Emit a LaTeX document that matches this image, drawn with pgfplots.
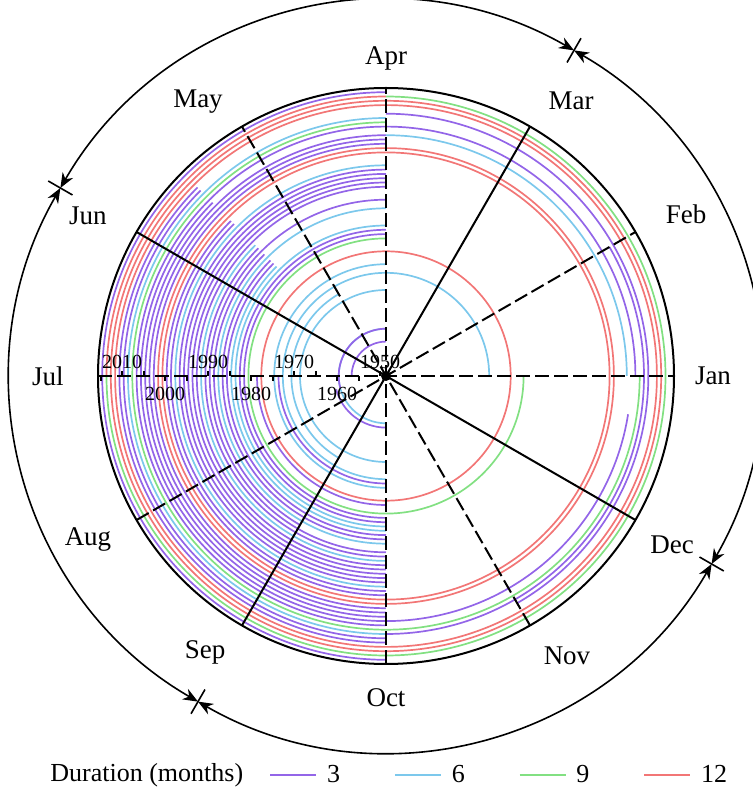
\documentclass[border=0pt]{standalone}
\usepackage{fontspec}
\setmainfont{Liberation Serif}
\usepackage{pgfplots}
\usepackage{pgfplotstable}
\pgfplotsset{compat=1.18}
\usetikzlibrary{arrows.meta}

\definecolor{c3}{RGB}{147,101,232}
\definecolor{c6}{RGB}{124,200,236}
\definecolor{c9}{RGB}{130,224,130}
\definecolor{c12}{RGB}{242,118,118}

% one ring per year: radius grows \rate units per year
\def\rate{4.3}
\def\rbase{1949.0}

\tikzset{
  yearlab/.style={font=\fontsize{10}{12}\selectfont, inner sep=0pt},
  monlab/.style={font=\fontsize{13.5}{16}\selectfont, inner sep=0pt},
  spoke/.style={black, line width=1pt},
  dashedspoke/.style={black, line width=1pt, dash pattern=on 7pt off 2.5pt},
}

% drought spells: ring year, from / to (month position, 0 = Jan, 3 = Apr, counterclockwise), scale (months)
\pgfplotstableread{
ring from to scale
1957 3 6 3
1960 3 9 6
1960 3 6.5 3
1961 6.5 9 3
1969 3 9 6
1971 4 8 6
1973 0 9 6
1974 6 9 3
1975 3 9 6
1978 3 15 12
1979 6 9 3
1981 3 12 9
1982 3 9 3
1983 3 9 3
1984 3 9 6
1985 4.5 9 6
1986 4.5 9 3
1987 4.5 9 3
1988 3 9 6
1989 4.5 8 3
1990 3 9 3
1991 4.5 9 3
1992 4.5 9 6
1993 3 9 3
1994 3 9 3
1995 3 9 3
1996 3 9 3
1997 3 9 3
1998 3 9 6
1999 4.5 9 3
2000 4.5 9 3
2001 3 15 12
2002 3 15 12
2003 3 9 3
2004 3 9 3
2005 3 9 3
2005 12 15 6
2006 4.5 11.7 3
2007 3 9 3
2007 12 15 3
2008 3 12 9
2009 3 9 6
2009 9 13 3
2010 4.5 9 3
2010 10 15 3
2011 4.5 9 3
2012 3 15 12
2013 3 15 12
2014 3 6 12
2014 6 15 9
2015 3 9 3
}\spells

\newcommand\drawspell[1]{%
  \pgfplotstablegetelem{#1}{ring}\of\spells \edef\spR{\pgfplotsretval}%
  \pgfplotstablegetelem{#1}{from}\of\spells \edef\spA{\pgfplotsretval}%
  \pgfplotstablegetelem{#1}{to}\of\spells \edef\spB{\pgfplotsretval}%
  \pgfplotstablegetelem{#1}{scale}\of\spells \edef\spS{\pgfplotsretval}%
  \pgfmathsetmacro\angA{\spA*30}%
  \pgfmathsetmacro\angB{\spB*30}%
  \pgfmathsetmacro\rr{\rate*(\spR-\rbase)}%
  \pgfmathsetmacro\xS{\rr*cos(\angA)}%
  \pgfmathsetmacro\yS{\rr*sin(\angA)}%
  \pgfmathsetmacro\rpt{0.5*\rr}%
  \pgfmathtruncatemacro\sc{\spS}%
  \edef\temp{\noexpand\draw[c\sc, line width=0.85pt] (axis cs:\xS,\yS)
    arc[start angle=\angA, end angle=\angB, radius=\rpt pt];}%
  \temp
}

\begin{document}
\begin{tikzpicture}
\begin{axis}[
  x=0.5pt, y=0.5pt,
  xmin=-386, xmax=367, ymin=-418, ymax=376,
  hide axis, clip=false,
  legend columns=4,
  legend style={at={(axis cs:-117,-399)}, anchor=west, draw=none, fill=none,
    inner xsep=0pt, font=\fontsize{13}{15}\selectfont,
    /tikz/every odd column/.append style={column sep=3pt},
    /tikz/every even column/.append style={column sep=25pt}},
  legend image code/.code={\draw[#1] (0pt,0pt) -- (23pt,0pt);},
]
\addlegendimage{c3, line width=0.85pt}
\addlegendentry{3}
\addlegendimage{c6, line width=0.85pt}
\addlegendentry{6}
\addlegendimage{c9, line width=0.85pt}
\addlegendentry{9}
\addlegendimage{c12, line width=0.85pt}
\addlegendentry{12}
\node[anchor=west, inner sep=0pt, font=\fontsize{13}{15}\selectfont] at (axis cs:-336,-399) {Duration (months)};

\pgfplotstablegetrowsof{\spells}
\pgfmathtruncatemacro\lastrow{\pgfplotsretval-1}
\pgfplotsinvokeforeach{0,...,\lastrow}{\drawspell{#1}}

% month spokes
\draw[dashedspoke] (axis cs:-288,0) -- (axis cs:288,0);
\draw[dashedspoke] (axis cs:{-288*cos(30)},{-288*sin(30)}) -- (axis cs:{288*cos(30)},{288*sin(30)});
\draw[spoke] (axis cs:{-288*cos(60)},{-288*sin(60)}) -- (axis cs:{288*cos(60)},{288*sin(60)});
\draw[dashedspoke] (axis cs:0,-288) -- (axis cs:0,288);
\draw[dashedspoke] (axis cs:{-288*cos(120)},{-288*sin(120)}) -- (axis cs:{288*cos(120)},{288*sin(120)});
\draw[spoke] (axis cs:{-288*cos(150)},{-288*sin(150)}) -- (axis cs:{288*cos(150)},{288*sin(150)});
\fill[black] (axis cs:0,0) circle[radius=2.5pt];
\draw[spoke] (axis cs:0,0) circle[radius=144pt];

% year ticks along the July spoke
\foreach \yr/\dir in {1950/1,1955/-1,1960/-1,1965/1,1970/1,1975/-1,1980/-1,1985/1,1990/1,1995/-1,2000/-1,2005/1,2010/1,2015/-1}{
  \pgfmathsetmacro\tx{-\rate*(\yr-\rbase)-1.5}
  \edef\temp{\noexpand\draw[black, line width=0.8pt] (axis cs:\tx,0) -- (axis cs:\tx,5*\dir);}
  \temp
}
\foreach \yr/\off in {1950/14,1960/-18,1970/14,1980/-18,1990/14,2000/-18,2010/14}{
  \pgfmathsetmacro\tx{-\rate*(\yr-\rbase)-1.5}
  \edef\temp{\noexpand\node[yearlab] at (axis cs:\tx,\off) {\yr};}
  \temp
}

% month labels
\foreach \lab/\px/\py in {Jan/327/0,Feb/300/162,Mar/185/275,Apr/0/318,May/-188/274,Jun/-298/160,Jul/-338/0,Aug/-298/-164,Sep/-181/-276,Oct/0/-322,Nov/181/-280,Dec/286/-169}{
  \edef\temp{\noexpand\node[monlab] at (axis cs:\px,\py) {\lab};}
  \temp
}

% seasons ring
\foreach \a in {60,150,240,330}{
  \pgfmathsetmacro\xa{376*cos(\a)}
  \pgfmathsetmacro\ya{376*sin(\a)}
  \pgfmathsetmacro\xi{362*cos(\a)}
  \pgfmathsetmacro\yi{362*sin(\a)}
  \pgfmathsetmacro\xo{390*cos(\a)}
  \pgfmathsetmacro\yo{390*sin(\a)}
  \pgfmathsetmacro\ae{\a+90}
  \edef\temp{\noexpand\draw[black, line width=0.8pt, {Stealth[length=7.5pt,width=6pt]}-{Stealth[length=7.5pt,width=6pt]}]
    (axis cs:\xa,\ya) arc[start angle=\a, end angle=\ae, radius=188pt];
    \noexpand\draw[black, line width=0.8pt] (axis cs:\xi,\yi) -- (axis cs:\xo,\yo);}
  \temp
}
\end{axis}
\pgfresetboundingbox
\path (current axis.south west) rectangle (current axis.north east);
\end{tikzpicture}
\end{document}
